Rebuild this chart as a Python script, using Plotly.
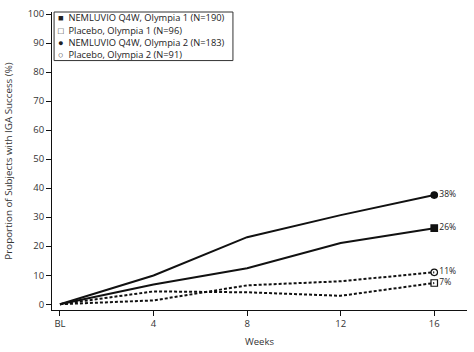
import plotly.graph_objects as go

weeks = [0, 4, 8, 12, 16]
week_labels = ["BL", "4", "8", "12", "16"]
nem_o1 = [0, 6.8, 12.4, 21.1, 26.2]
pbo_o1 = [0, 4.4, 4.1, 2.9, 7.3]
nem_o2 = [0, 9.9, 23.1, 30.7, 37.6]
pbo_o2 = [0, 1.3, 6.5, 7.9, 11.0]
end_labels = ["26%", "7%", "38%", "11%"]
series_names = ["NEMLUVIO Q4W, Olympia 1 (N=190)", "Placebo, Olympia 1 (N=96)",
                "NEMLUVIO Q4W, Olympia 2 (N=183)", "Placebo, Olympia 2 (N=91)"]
legend_glyphs = ["■", "□", "●", "○"]

series = [nem_o1, pbo_o1, nem_o2, pbo_o2]
dashes = ["solid", "3px,2px", "solid", "3px,2px"]
symbols = ["square", "square-open", "circle", "circle-open"]

FONT = "Open Sans"
fig = go.Figure()
for vals, dash, sym, name, lab in zip(series, dashes, symbols, series_names, end_labels):
    fig.add_trace(go.Scatter(x=weeks, y=vals, mode="lines", name=name,
                             line=dict(color="#111", width=2, dash=dash),
                             showlegend=False, hoverinfo="skip"))
    fig.add_trace(go.Scatter(x=[weeks[-1]], y=[vals[-1]], mode="markers+text",
                             text=[lab], textposition="middle right",
                             textfont=dict(size=8.5, color="#222", family=FONT),
                             marker=dict(symbol=sym, size=6.5, color="#111",
                                         line=dict(color="#111", width=1.2)),
                             showlegend=False))

# legend box (plot area: x 52..467 px, y 10..311 px)
fig.add_shape(type="rect", xref="paper", yref="paper", x0=0.005, x1=0.436, y0=0.837, y1=1.0,
              line=dict(color="#333", width=1), fillcolor="white", layer="above")
row_y = [0.980, 0.939, 0.898, 0.857]
for g, n, yy in zip(legend_glyphs, series_names, row_y):
    fig.add_annotation(xref="paper", yref="paper", x=0.010, y=yy, xanchor="left", yanchor="middle",
                       text=f"{g}  {n}", showarrow=False, align="left",
                       font=dict(size=9.3, color="#222", family=FONT))

fig.update_layout(
    width=474, height=352, margin=dict(l=52, r=7, t=10, b=41),
    paper_bgcolor="white", plot_bgcolor="white",
    font=dict(family=FONT, size=9, color="#333"),
    xaxis=dict(range=[-0.34, 17.4], tickvals=weeks, ticktext=week_labels,
               showline=True, linecolor="#111", linewidth=1, ticks="outside",
               ticklen=5, tickcolor="#111", showgrid=False, zeroline=False,
               title=dict(text="Weeks", font=dict(size=9.5, color="#333"), standoff=8),
               tickfont=dict(size=9.5, color="#333")),
    yaxis=dict(range=[-2, 100.7], tickvals=list(range(0, 101, 10)),
               showline=True, linecolor="#111", linewidth=1, ticks="outside",
               ticklen=5, tickcolor="#111", showgrid=False, zeroline=False,
               title=dict(text="Proportion of Subjects with IGA Success (%)",
                          font=dict(size=9.8, color="#333"), standoff=13),
               tickfont=dict(size=9.5, color="#333")),
)
fig.write_html("out.html")
